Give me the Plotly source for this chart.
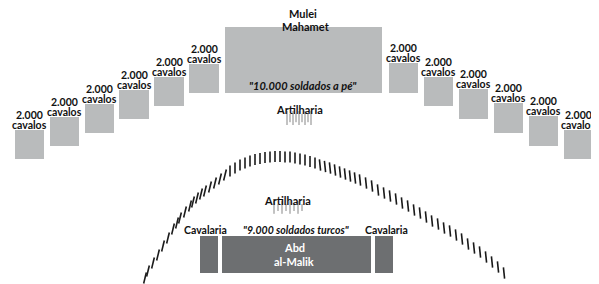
import plotly.graph_objects as go

# ---------------- data ----------------
# Portuguese-side (top) units: label lines, box extents in diagram pixels
cav_top_x0 = [15, 50, 85, 119, 154, 189, 389, 424, 459, 494, 529, 564]
cav_top_x1 = [44, 79, 114, 149, 184, 219, 418, 453, 488, 523, 558, 593]
cav_top_y0 = [130, 117, 104, 90, 77, 64, 63, 77, 89, 103, 116, 130]
cav_top_y1 = [159, 146, 133, 119, 106, 93, 93, 106, 119, 133, 146, 159]
cav_top_line1 = "2.000"
cav_top_line2 = "cavalos"

inf_top_box = [225, 382, 27, 93]
inf_top_label = '"10.000 soldados a pé"'
leader_top = ["Mulei", "Mahamet"]

# Moroccan-side (bottom) units
low_boxes_x0 = [200, 222, 375]
low_boxes_x1 = [218, 371, 393]
low_boxes_y0 = [236, 236, 236]
low_boxes_y1 = [273, 273, 273]
low_labels = ["Cavalaria", '"9.000 soldados turcos"', "Cavalaria"]
low_label_x = [205, 296, 386]
leader_low = ["Abd", "al-Malik"]

artilharia = "Artilharia"

# crescent formation marks (x, y)
arc_x = [145, 148, 153, 158, 163, 168, 173, 177, 180, 185, 190, 193, 197, 201, 205,
         210, 215, 220, 225, 230, 235, 240, 245, 250, 255, 260, 265, 270, 275, 280,
         285, 290, 295, 300, 305, 310, 315, 320, 325, 330, 335, 340, 345, 350, 355,
         360, 366, 372, 378, 384, 390, 396, 402, 408, 414, 420, 426, 432, 438, 444,
         450, 456, 462, 468, 474, 480, 486, 492, 498, 504]
arc_y = [278, 271, 263, 255, 246, 238, 229, 223, 218, 212, 206, 202, 198, 194, 191,
         187, 183, 179, 175, 171, 168, 165, 163, 161, 159.5, 158.5, 157.5, 157, 156.5, 156.5,
         157, 157, 158, 159, 160, 161.5, 163, 165, 166.5, 168, 170, 172, 174, 176, 178,
         180, 183, 186, 190, 193, 196, 199, 203, 206, 210, 213, 217, 221, 224, 228,
         231, 235, 239, 244, 248, 252, 257, 262, 267, 273]

# artillery pieces
art_top_x = [287, 290, 293, 296, 299, 302, 305, 308, 311]
art_low_x = [274, 278, 282, 286, 290, 294, 298, 302]

# ---------------- styles ----------------
LIGHT = "#b9bbbc"
DARK = "#6d6f71"
INK = "#111111"
FONT = "Lato"
PAGE_MARGIN = 8  # default body margin of the html page

fig = go.Figure()
shapes = []
annotations = []

def ann(x, y, text, size=10.5, color=INK, italic=False, bold=True):
    t = text
    if bold:
        t = "<b>" + t + "</b>"
    if italic:
        t = "<i>" + t + "</i>"
    annotations.append(dict(x=x, y=y, xref="x", yref="y", text=t, showarrow=False,
                            xanchor="center", yanchor="middle", borderpad=0,
                            font=dict(family=FONT, size=size, color=color)))

for x0, x1, y0, y1 in zip(cav_top_x0, cav_top_x1, cav_top_y0, cav_top_y1):
    shapes.append(dict(type="rect", xref="x", yref="y", x0=x0, x1=x1, y0=y0, y1=y1,
                       fillcolor=LIGHT, line=dict(width=0), layer="below"))
    cx = (x0 + x1) / 2
    ann(cx, y0 - 15, cav_top_line1, size=10.5)
    ann(cx, y0 - 5.5, cav_top_line2, size=10.5)

x0, x1, y0, y1 = inf_top_box
shapes.append(dict(type="rect", xref="x", yref="y", x0=x0, x1=x1, y0=y0, y1=y1,
                   fillcolor=LIGHT, line=dict(width=0), layer="below"))
ann(303, 85, inf_top_label, italic=True, size=11)
ann(303, 13, leader_top[0], size=11)
ann(306, 26, leader_top[1], size=11)
ann(299, 109, artilharia, size=11)

for x0, x1, y0, y1 in zip(low_boxes_x0, low_boxes_x1, low_boxes_y0, low_boxes_y1):
    shapes.append(dict(type="rect", xref="x", yref="y", x0=x0, x1=x1, y0=y0, y1=y1,
                       fillcolor=DARK, line=dict(width=0), layer="below"))
for lx, lt in zip(low_label_x, low_labels):
    ann(lx, 230, lt, italic=lt.startswith('"'), size=10.5)
ann(294, 247, leader_low[0], color="white", size=11)
ann(294, 261, leader_low[1], color="white", size=11)
ann(287, 200, artilharia, size=11)

# crescent marks
angles = [14 if x < 230 else (0 if x < 320 else -6) for x in arc_x]
fig.add_trace(go.Scatter(x=arc_x, y=arc_y, mode="markers", hoverinfo="skip",
                         marker=dict(symbol="line-ns", size=8, angle=angles,
                                     line=dict(width=1.6, color="#1a1a1a"))))

# artillery ticks
fig.add_trace(go.Scatter(x=art_top_x, y=[118] * len(art_top_x), mode="markers", hoverinfo="skip",
                         marker=dict(symbol="line-ns", size=[10 if i % 2 == 0 else 6 for i in range(len(art_top_x))],
                                     line=dict(width=1, color="#555555"))))
fig.add_trace(go.Scatter(x=art_low_x, y=[207.5] * len(art_low_x), mode="markers", hoverinfo="skip",
                         marker=dict(symbol="line-ns", size=[9 if i % 2 == 0 else 5 for i in range(len(art_low_x))],
                                     line=dict(width=1, color="#555555"))))

fig.update_layout(width=599 - PAGE_MARGIN, height=284 - PAGE_MARGIN,
                  margin=dict(l=0, r=0, t=0, b=0),
                  paper_bgcolor="white", plot_bgcolor="white", showlegend=False,
                  shapes=shapes, annotations=annotations,
                  xaxis=dict(range=[PAGE_MARGIN, 599], visible=False, fixedrange=True),
                  yaxis=dict(range=[284, PAGE_MARGIN], visible=False, fixedrange=True))

fig.write_html("out.html", config={"displayModeBar": False})
